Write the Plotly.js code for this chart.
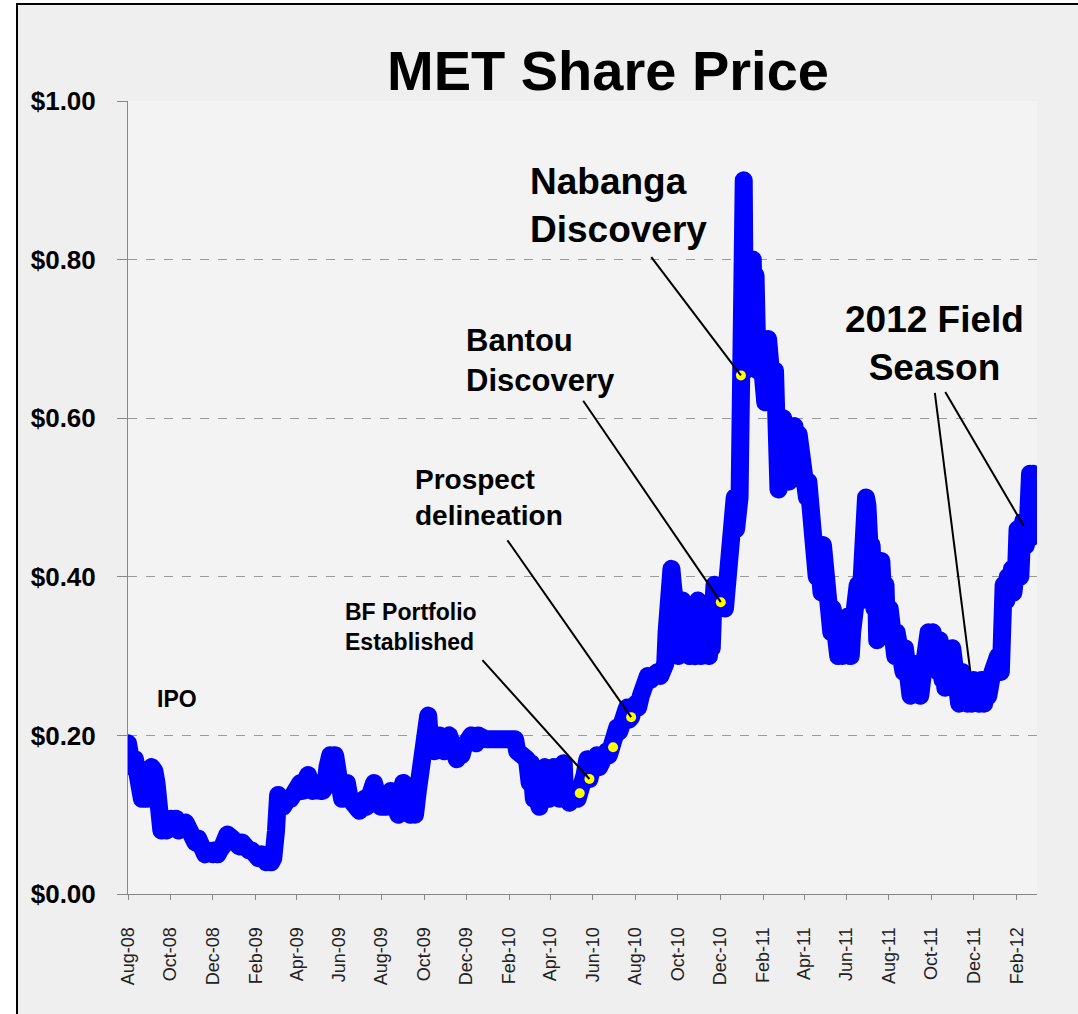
<!DOCTYPE html>
<html>
<head>
<meta charset="utf-8">
<script src="https://cdn.plot.ly/plotly-3.0.1.min.js"></script>
<style>
  html, body { margin: 0; padding: 0; background: #ffffff; width: 1078px; height: 1014px; overflow: hidden; }
  #frame { position: absolute; left: 16px; top: 3px; border-left: 2px solid #000; border-top: 2px solid #000; }
  #chart { width: 1060px; height: 1009px; }
</style>
</head>
<body>
<div id="frame"><div id="chart"></div></div>
<script>
// ---- Share price series ----
const dates = [
 '2008-08-01','2008-08-04','2008-08-07','2008-08-11','2008-08-14','2008-08-18','2008-08-21','2008-08-25','2008-08-28',
 '2008-09-01','2008-09-04','2008-09-08','2008-09-11','2008-09-15','2008-09-18','2008-09-22','2008-09-25','2008-09-29',
 '2008-10-02','2008-10-06','2008-10-09','2008-10-13','2008-10-16','2008-10-20','2008-10-23','2008-10-27','2008-10-30',
 '2008-11-03','2008-11-06','2008-11-10','2008-11-13','2008-11-17','2008-11-20','2008-11-24','2008-11-27',
 '2008-12-01','2008-12-04','2008-12-08','2008-12-11','2008-12-15','2008-12-18','2008-12-22','2008-12-29',
 '2009-01-02','2009-01-05','2009-01-08','2009-01-12','2009-01-15','2009-01-19','2009-01-22','2009-01-26','2009-01-29',
 '2009-02-02','2009-02-05','2009-02-09','2009-02-12','2009-02-16','2009-02-19','2009-02-23','2009-02-26',
 '2009-03-02','2009-03-04','2009-03-05','2009-03-09','2009-03-12','2009-03-16','2009-03-19','2009-03-23','2009-03-26','2009-03-30',
 '2009-04-02','2009-04-06','2009-04-09','2009-04-14','2009-04-17','2009-04-21','2009-04-24','2009-04-28',
 '2009-05-01','2009-05-05','2009-05-08','2009-05-12','2009-05-15','2009-05-19','2009-05-22','2009-05-26','2009-05-29',
 '2009-06-02','2009-06-05','2009-06-09','2009-06-12','2009-06-16','2009-06-19','2009-06-23','2009-06-26','2009-06-30',
 '2009-07-03','2009-07-07','2009-07-10','2009-07-14','2009-07-17','2009-07-21','2009-07-24','2009-07-28','2009-07-31',
 '2009-08-04','2009-08-07','2009-08-11','2009-08-14','2009-08-18','2009-08-21','2009-08-25','2009-08-28',
 '2009-09-01','2009-09-04','2009-09-08','2009-09-11','2009-09-15','2009-09-18','2009-09-22','2009-09-25','2009-09-29',
 '2009-10-01','2009-10-05','2009-10-07','2009-10-09','2009-10-13','2009-10-16','2009-10-20','2009-10-23','2009-10-27','2009-10-30',
 '2009-11-03','2009-11-06','2009-11-10','2009-11-13','2009-11-17','2009-11-20','2009-11-24','2009-11-27',
 '2009-12-01','2009-12-04','2009-12-08','2009-12-11','2009-12-15','2009-12-18','2009-12-22','2009-12-29',
 '2010-01-05','2010-01-12','2010-01-19','2010-01-26',
 '2010-02-02','2010-02-09','2010-02-12','2010-02-16','2010-02-19','2010-02-23','2010-02-26',
 '2010-03-02','2010-03-04','2010-03-08','2010-03-10','2010-03-12','2010-03-16','2010-03-18','2010-03-22','2010-03-24','2010-03-26','2010-03-30',
 '2010-04-01','2010-04-06','2010-04-08','2010-04-12','2010-04-14','2010-04-16','2010-04-20','2010-04-22','2010-04-26','2010-04-28',
 '2010-05-03','2010-05-06','2010-05-10','2010-05-13','2010-05-17','2010-05-20','2010-05-24','2010-05-27','2010-05-31',
 '2010-06-03','2010-06-07','2010-06-10','2010-06-14','2010-06-17','2010-06-21','2010-06-24','2010-06-28','2010-06-30',
 '2010-07-02','2010-07-06','2010-07-09','2010-07-13','2010-07-16','2010-07-20','2010-07-23','2010-07-26','2010-07-29',
 '2010-08-02','2010-08-05','2010-08-09','2010-08-12','2010-08-16','2010-08-19','2010-08-23','2010-08-26','2010-08-30',
 '2010-09-02','2010-09-06','2010-09-09','2010-09-13','2010-09-15','2010-09-17','2010-09-20','2010-09-22','2010-09-24','2010-09-28','2010-09-30',
 '2010-10-02','2010-10-04','2010-10-06','2010-10-08','2010-10-10','2010-10-12','2010-10-14','2010-10-16','2010-10-18','2010-10-20','2010-10-22','2010-10-24','2010-10-26','2010-10-28','2010-10-30',
 '2010-11-01','2010-11-03','2010-11-05','2010-11-07','2010-11-09','2010-11-11','2010-11-13','2010-11-15','2010-11-17','2010-11-19','2010-11-21','2010-11-23','2010-11-25','2010-11-29',
 '2010-12-02','2010-12-06','2010-12-08','2010-12-10','2010-12-14','2010-12-16','2010-12-20','2010-12-22','2010-12-24','2010-12-29','2010-12-31',
 '2011-01-04','2011-01-06','2011-01-10','2011-01-13','2011-01-17','2011-01-19','2011-01-21','2011-01-24','2011-01-27','2011-01-31',
 '2011-02-02','2011-02-04','2011-02-08','2011-02-10','2011-02-14','2011-02-16','2011-02-18','2011-02-21','2011-02-23','2011-02-25','2011-02-28',
 '2011-03-02','2011-03-04','2011-03-08','2011-03-10','2011-03-14','2011-03-16','2011-03-18','2011-03-22','2011-03-24','2011-03-28','2011-03-30',
 '2011-04-01','2011-04-05','2011-04-07','2011-04-11','2011-04-13','2011-04-15','2011-04-19','2011-04-21','2011-04-26','2011-04-28',
 '2011-05-02','2011-05-04','2011-05-06','2011-05-10','2011-05-12','2011-05-16','2011-05-18','2011-05-20','2011-05-24','2011-05-26','2011-05-30',
 '2011-06-01','2011-06-03','2011-06-07','2011-06-09','2011-06-13','2011-06-15','2011-06-17','2011-06-21','2011-06-23','2011-06-27','2011-06-29',
 '2011-07-01','2011-07-05','2011-07-07','2011-07-11','2011-07-13','2011-07-15','2011-07-19','2011-07-21','2011-07-25','2011-07-27','2011-07-29',
 '2011-08-02','2011-08-04','2011-08-08','2011-08-10','2011-08-12','2011-08-16','2011-08-18','2011-08-22','2011-08-24','2011-08-26','2011-08-30',
 '2011-09-01','2011-09-05','2011-09-07','2011-09-09','2011-09-13','2011-09-15','2011-09-19','2011-09-21','2011-09-23','2011-09-27','2011-09-29',
 '2011-10-03','2011-10-05','2011-10-07','2011-10-11','2011-10-13','2011-10-17','2011-10-19','2011-10-21','2011-10-25','2011-10-27','2011-10-31',
 '2011-11-02','2011-11-04','2011-11-08','2011-11-10','2011-11-14','2011-11-16','2011-11-18','2011-11-22','2011-11-24','2011-11-28','2011-11-30',
 '2011-12-02','2011-12-06','2011-12-08','2011-12-12','2011-12-14','2011-12-16','2011-12-20','2011-12-22','2011-12-28','2011-12-30',
 '2012-01-03','2012-01-05','2012-01-09','2012-01-11','2012-01-13','2012-01-17','2012-01-19','2012-01-23','2012-01-25','2012-01-27','2012-01-31',
 '2012-02-02','2012-02-06','2012-02-08','2012-02-10','2012-02-14','2012-02-16','2012-02-20','2012-02-22','2012-02-24'
];
const prices = [
 0.19,0.18,0.16,0.17,0.13,0.15,0.12,0.14,0.12,
 0.15,0.16,0.155,0.14,0.10,0.08,0.09,0.08,0.09,
 0.095,0.085,0.095,0.08,0.09,0.085,0.09,0.08,0.075,
 0.07,0.065,0.07,0.06,0.055,0.05,0.055,0.05,
 0.05,0.055,0.05,0.055,0.06,0.065,0.075,0.07,
 0.06,0.065,0.06,0.065,0.06,0.06,0.055,0.055,0.05,
 0.05,0.045,0.05,0.045,0.04,0.045,0.04,0.045,
 0.08,0.12,0.125,0.12,0.11,0.12,0.12,0.12,0.125,0.12,
 0.13,0.14,0.13,0.145,0.15,0.14,0.13,0.14,
 0.13,0.13,0.13,0.135,0.16,0.175,0.17,0.175,0.14,
 0.125,0.12,0.13,0.14,0.12,0.115,0.12,0.11,0.105,
 0.11,0.12,0.11,0.13,0.14,0.14,0.13,0.12,0.11,
 0.12,0.11,0.12,0.13,0.125,0.11,0.10,0.12,
 0.14,0.13,0.11,0.10,0.12,0.10,0.13,0.15,0.15,
 0.19,0.22,0.225,0.20,0.19,0.18,0.19,0.20,0.19,0.18,
 0.195,0.20,0.19,0.175,0.17,0.18,0.175,0.185,
 0.19,0.20,0.20,0.195,0.19,0.20,0.195,0.195,
 0.195,0.195,0.195,0.195,
 0.195,0.195,0.18,0.175,0.175,0.175,0.17,
 0.14,0.165,0.12,0.15,0.125,0.11,0.14,0.12,0.16,0.13,0.12,
 0.14,0.16,0.13,0.15,0.12,0.14,0.165,0.12,0.13,0.115,
 0.12,0.13,0.12,0.127,0.13,0.15,0.17,0.145,0.16,
 0.165,0.175,0.16,0.17,0.175,0.18,0.175,0.19,0.185,
 0.20,0.21,0.205,0.22,0.215,0.235,0.22,0.223,0.235,
 0.24,0.235,0.25,0.265,0.26,0.275,0.27,0.275,0.27,
 0.28,0.275,0.285,0.29,0.33,0.37,0.40,0.41,0.39,0.36,0.32,
 0.30,0.36,0.33,0.37,0.31,0.35,0.32,0.34,0.30,0.36,0.31,0.33,0.30,0.36,0.37,
 0.33,0.30,0.35,0.31,0.36,0.32,0.34,0.30,0.35,0.31,0.36,0.39,0.36,0.38,
 0.368,0.38,0.36,0.40,0.42,0.45,0.48,0.50,0.46,0.50,0.654,
 0.90,0.66,0.68,0.79,0.80,0.70,0.78,0.66,0.70,0.62,
 0.68,0.62,0.70,0.63,0.69,0.62,0.66,0.55,0.51,0.58,0.53,
 0.60,0.53,0.58,0.52,0.57,0.55,0.59,0.53,0.58,0.54,0.57,
 0.55,0.50,0.52,0.46,0.44,0.45,0.40,0.43,0.38,0.44,
 0.40,0.36,0.38,0.33,0.36,0.31,0.34,0.30,0.33,0.30,0.34,
 0.31,0.35,0.30,0.33,0.36,0.34,0.39,0.37,0.43,0.46,0.50,
 0.49,0.42,0.44,0.36,0.42,0.32,0.38,0.42,0.35,0.39,0.33,
 0.36,0.32,0.34,0.30,0.33,0.31,0.33,0.28,0.31,0.26,0.29,
 0.25,0.28,0.26,0.29,0.27,0.25,0.28,0.31,0.28,0.33,0.30,
 0.33,0.29,0.31,0.28,0.32,0.27,0.31,0.26,0.30,0.28,0.31,
 0.28,0.25,0.27,0.24,0.28,0.25,0.27,0.24,0.26,0.24,0.27,
 0.24,0.26,0.24,0.27,0.25,0.24,0.27,0.25,0.28,0.30,
 0.28,0.30,0.28,0.35,0.39,0.37,0.40,0.39,0.41,0.38,0.41,
 0.46,0.40,0.44,0.47,0.44,0.45,0.53,0.45,0.53
];

// ---- Event markers (yellow points) ----
const eventDates  = ['2010-05-13','2010-05-27','2010-06-30','2010-07-26','2010-12-02','2010-12-31'];
const eventPrices = [0.127, 0.145, 0.185, 0.223, 0.368, 0.654];

// ---- Axis ticks ----
const tickDates = ['2008-08-01','2008-10-01','2008-12-01','2009-02-01','2009-04-01','2009-06-01','2009-08-01',
  '2009-10-01','2009-12-01','2010-02-01','2010-04-01','2010-06-01','2010-08-01','2010-10-01','2010-12-01',
  '2011-02-01','2011-04-01','2011-06-01','2011-08-01','2011-10-01','2011-12-01','2012-02-01'];
const tickLabels = ['Aug-08','Oct-08','Dec-08','Feb-09','Apr-09','Jun-09','Aug-09','Oct-09','Dec-09','Feb-10',
  'Apr-10','Jun-10','Aug-10','Oct-10','Dec-10','Feb-11','Apr-11','Jun-11','Aug-11','Oct-11','Dec-11','Feb-12'];
const yTicks = [0, 0.2, 0.4, 0.6, 0.8, 1.0];
const yTickLabels = ['$0.00', '$0.20', '$0.40', '$0.60', '$0.80', '$1.00'];

// ---- Callout labels and leader lines ----
const labelTexts = ['IPO','BF Portfolio<br>Established','Prospect<br>delineation','Bantou<br>Discovery','Nabanga<br>Discovery','2012 Field<br>Season'];
const labelX     = ['2008-10-10','2009-06-07','2009-09-15','2009-11-28','2010-02-27','2011-10-05'];
const labelY     = [0.246, 0.337, 0.500, 0.673, 0.868, 0.694];
const labelSize  = [23, 23, 28, 31, 37, 37];
const labelAlign = ['center','left','left','left','left','center'];
const leaderFromX = ['2009-12-24','2010-01-29','2010-05-18','2010-08-24','2011-10-06','2011-10-21'];
const leaderFromY = [0.295, 0.446, 0.622, 0.803, 0.632, 0.633];
const leaderToX   = ['2010-05-27','2010-07-26','2010-12-02','2010-12-31','2011-11-26','2012-02-11'];
const leaderToY   = [0.145, 0.223, 0.368, 0.654, 0.281, 0.464];

const FONT = 'Liberation Sans, Arial, Helvetica, sans-serif';

const traces = [
  { x: dates, y: prices, type: 'scatter', mode: 'lines',
    line: { color: '#0000ff', width: 18 }, hoverinfo: 'skip' },
  { x: eventDates, y: eventPrices, type: 'scatter', mode: 'markers',
    marker: { color: '#ffff00', size: 10, symbol: 'circle', line: { width: 0 } }, hoverinfo: 'skip' }
];

const annotations = labelTexts.map((t, i) => ({
  x: labelX[i], y: labelY[i], xref: 'x', yref: 'y', text: '<b>' + t + '</b>', showarrow: false,
  xanchor: labelAlign[i], yanchor: 'middle', align: labelAlign[i],
  font: { family: FONT, size: labelSize[i], color: '#000' }
}));

const shapes = leaderFromX.map((fx, i) => ({
  type: 'line', xref: 'x', yref: 'y', x0: fx, y0: leaderFromY[i], x1: leaderToX[i], y1: leaderToY[i],
  line: { color: '#000', width: 2 }
}));

const layout = {
  width: 1060, height: 1009,
  margin: { l: 110, r: 41, t: 96, b: 120, pad: 0 },
  paper_bgcolor: '#efefef', plot_bgcolor: '#f3f3f3',
  showlegend: false, hovermode: false,
  title: { text: '<b>MET Share Price</b>', x: 0.5566, xanchor: 'center', xref: 'container',
           y: 0.9356, yanchor: 'middle', yref: 'container',
           font: { family: FONT, size: 56, color: '#000' } },
  xaxis: {
    type: 'date', range: ['2008-08-01', '2012-03-01'],
    tickmode: 'array', tickvals: tickDates, ticktext: tickLabels, tickangle: -90,
    ticks: 'outside', ticklen: 5, tickcolor: '#888', ticklabelstandoff: 20,
    showline: true, linecolor: '#888', linewidth: 1,
    showgrid: false, zeroline: false,
    tickfont: { family: FONT, size: 18, color: '#222' }
  },
  yaxis: {
    range: [0, 1], tickmode: 'array', tickvals: yTicks, ticktext: yTickLabels,
    ticks: 'outside', ticklen: 10, tickcolor: '#888', ticklabelstandoff: 16,
    showline: true, linecolor: '#888', linewidth: 1,
    showgrid: true, gridcolor: '#9a9a9a', gridwidth: 1, griddash: 'dash', zeroline: false,
    tickfont: { family: FONT, size: 26, color: '#000', weight: 'bold' }
  },
  annotations: annotations,
  shapes: shapes
};

Plotly.newPlot('chart', traces, layout, { staticPlot: true, displayModeBar: false }).then(() => {
  document.querySelectorAll('#chart .scatterlayer .js-line').forEach(p => {
    p.style.strokeLinejoin = 'round';
    p.style.strokeLinecap = 'round';
  });
});
</script>
</body>
</html>
